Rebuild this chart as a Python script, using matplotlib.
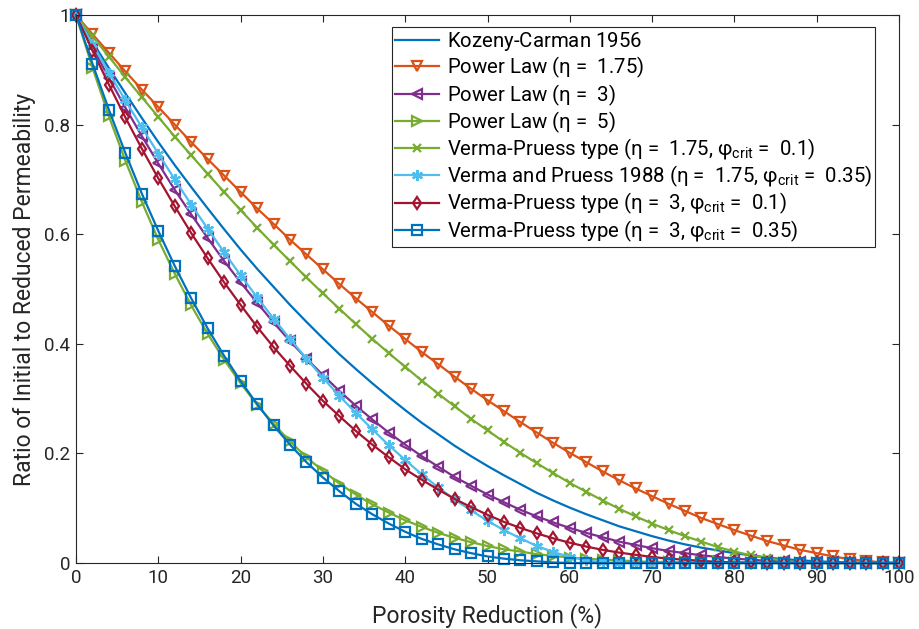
import matplotlib
matplotlib.use("Agg")
import matplotlib.pyplot as plt

plt.rcParams['font.family'] = ['Roboto', 'DejaVu Sans']
plt.rcParams['mathtext.default'] = 'regular'

# Porosity reduction (%)
x_reduction = list(range(0, 101, 2))

kozeny_carman = [1.000, 0.951, 0.903, 0.857, 0.812, 0.768, 0.726, 0.686, 0.647, 0.609,
                 0.572, 0.537, 0.504, 0.471, 0.440, 0.410, 0.381, 0.354, 0.328, 0.303,
                 0.279, 0.256, 0.235, 0.214, 0.195, 0.177, 0.160, 0.144, 0.128, 0.114,
                 0.101, 0.089, 0.078, 0.067, 0.058, 0.049, 0.041, 0.034, 0.028, 0.023,
                 0.018, 0.014, 0.010, 0.007, 0.005, 0.003, 0.002, 0.001, 0.000, 0.000, 0.000]

power_175 = [1.000, 0.965, 0.931, 0.897, 0.864, 0.832, 0.800, 0.768, 0.737, 0.707,
             0.677, 0.647, 0.619, 0.590, 0.563, 0.536, 0.509, 0.483, 0.458, 0.433,
             0.409, 0.385, 0.363, 0.340, 0.318, 0.297, 0.277, 0.257, 0.238, 0.219,
             0.201, 0.184, 0.167, 0.151, 0.136, 0.122, 0.108, 0.095, 0.082, 0.071,
             0.060, 0.050, 0.040, 0.032, 0.024, 0.018, 0.012, 0.007, 0.004, 0.001, 0.000]

power_3 = [1.000, 0.941, 0.885, 0.831, 0.779, 0.729, 0.681, 0.636, 0.593, 0.551,
           0.512, 0.475, 0.439, 0.405, 0.373, 0.343, 0.314, 0.287, 0.262, 0.238,
           0.216, 0.195, 0.176, 0.157, 0.141, 0.125, 0.111, 0.097, 0.085, 0.074,
           0.064, 0.055, 0.047, 0.039, 0.033, 0.027, 0.022, 0.018, 0.014, 0.011,
           0.008, 0.006, 0.004, 0.003, 0.002, 0.001, 0.001, 0.000, 0.000, 0.000, 0.000]

power_5 = [1.000, 0.904, 0.815, 0.734, 0.659, 0.590, 0.528, 0.470, 0.418, 0.371,
           0.328, 0.289, 0.254, 0.222, 0.193, 0.168, 0.145, 0.125, 0.107, 0.092,
           0.078, 0.066, 0.055, 0.046, 0.038, 0.031, 0.025, 0.021, 0.016, 0.013,
           0.010, 0.008, 0.006, 0.005, 0.003, 0.002, 0.002, 0.001, 0.001, 0.001,
           0.000, 0.000, 0.000, 0.000, 0.000, 0.000, 0.000, 0.000, 0.000, 0.000, 0.000]

vp_175_01 = [1.000, 0.961, 0.924, 0.886, 0.850, 0.814, 0.778, 0.744, 0.710, 0.677,
             0.644, 0.612, 0.581, 0.551, 0.521, 0.492, 0.464, 0.436, 0.409, 0.383,
             0.358, 0.333, 0.309, 0.286, 0.263, 0.242, 0.221, 0.201, 0.182, 0.164,
             0.146, 0.130, 0.114, 0.099, 0.085, 0.072, 0.060, 0.049, 0.039, 0.029,
             0.021, 0.014, 0.009, 0.004, 0.001, 0.000, 0.000, 0.000, 0.000, 0.000, 0.000]

vp_175_035 = [1.000, 0.947, 0.895, 0.844, 0.795, 0.747, 0.700, 0.654, 0.610, 0.567,
              0.525, 0.485, 0.446, 0.409, 0.373, 0.338, 0.305, 0.274, 0.244, 0.215,
              0.188, 0.162, 0.138, 0.116, 0.096, 0.077, 0.060, 0.045, 0.031, 0.020,
              0.011, 0.005, 0.001, 0.000, 0.000, 0.000, 0.000, 0.000, 0.000, 0.000,
              0.000, 0.000, 0.000, 0.000, 0.000, 0.000, 0.000, 0.000, 0.000, 0.000, 0.000]

vp_3_01 = [1.000, 0.935, 0.873, 0.813, 0.756, 0.702, 0.651, 0.602, 0.556, 0.512,
           0.471, 0.431, 0.394, 0.360, 0.327, 0.296, 0.268, 0.241, 0.216, 0.193,
           0.171, 0.152, 0.134, 0.117, 0.102, 0.088, 0.075, 0.064, 0.054, 0.045,
           0.037, 0.030, 0.024, 0.019, 0.015, 0.011, 0.008, 0.006, 0.004, 0.002,
           0.001, 0.001, 0.000, 0.000, 0.000, 0.000, 0.000, 0.000, 0.000, 0.000, 0.000]

vp_3_035 = [1.000, 0.911, 0.827, 0.748, 0.674, 0.606, 0.542, 0.483, 0.428, 0.378,
            0.332, 0.290, 0.251, 0.216, 0.184, 0.156, 0.131, 0.108, 0.089, 0.072,
            0.057, 0.044, 0.034, 0.025, 0.018, 0.012, 0.008, 0.005, 0.003, 0.001,
            0.000, 0.000, 0.000, 0.000, 0.000, 0.000, 0.000, 0.000, 0.000, 0.000,
            0.000, 0.000, 0.000, 0.000, 0.000, 0.000, 0.000, 0.000, 0.000, 0.000, 0.000]

labels = [
    "Kozeny-Carman 1956${}$",
    "Power Law (η =  1.75)${}$",
    "Power Law (η =  3)${}$",
    "Power Law (η =  5)${}$",
    "Verma-Pruess type (η =  1.75, φ$_{crit}$ =  0.1)",
    "Verma and Pruess 1988 (η =  1.75, φ$_{crit}$ =  0.35)",
    "Verma-Pruess type (η =  3, φ$_{crit}$ =  0.1)",
    "Verma-Pruess type (η =  3, φ$_{crit}$ =  0.35)",
]

series = [kozeny_carman, power_175, power_3, power_5, vp_175_01, vp_175_035, vp_3_01, vp_3_035]
colors = ["#0072BD", "#D95319", "#7E2F8E", "#77AC30", "#77AC30", "#4DBEEE", "#A2142F", "#0072BD"]
markers = [None, "v", "<", ">", "x", (6, 2, 0), "d", "s"]
msizes = [0, 7, 7, 7, 6, 8, 6, 7.5]

fig = plt.figure(figsize=(9.2, 6.29), dpi=100)
ax = fig.add_axes([0.0826, 0.1049, 0.8946, 0.8713])

for y, c, m, ms, lab in zip(series, colors, markers, msizes, labels):
    ax.plot(x_reduction, y, color=c, lw=1.6, marker=m, markersize=ms,
            markerfacecolor='none', markeredgewidth=1.6, markeredgecolor=c,
            label=lab, clip_on=False)

ax.set_xlim(0, 100)
ax.set_ylim(0, 1)
ax.set_xticks(range(0, 101, 10))
ax.set_yticks([0, 0.2, 0.4, 0.6, 0.8, 1.0])
ax.set_yticklabels(["0", "0.2", "0.4", "0.6", "0.8", "1"])
ax.tick_params(direction='in', top=True, right=True, length=5, width=0.8,
               colors='#262626', labelsize=13.5, pad=4)
for s in ax.spines.values():
    s.set_color('#262626')
    s.set_linewidth(0.8)

ax.set_xlabel("Porosity Reduction (%)", fontsize=16.5, color='#262626', labelpad=12)
ax.set_ylabel("Ratio of Initial to Reduced Permeability", fontsize=16.5, color='#262626', labelpad=6)

leg = ax.legend(loc='upper right', bbox_to_anchor=(0.971, 0.978), borderaxespad=0,
                fontsize=14.7, handlelength=2.15, handletextpad=0.38, labelspacing=0.09,
                borderpad=0.15, frameon=True, fancybox=False, framealpha=1)
leg.get_frame().set_edgecolor('#262626')
leg.get_frame().set_linewidth(0.8)
for t in leg.get_texts():
    t.set_color('#000000')

fig.savefig("out.png", dpi=100)
